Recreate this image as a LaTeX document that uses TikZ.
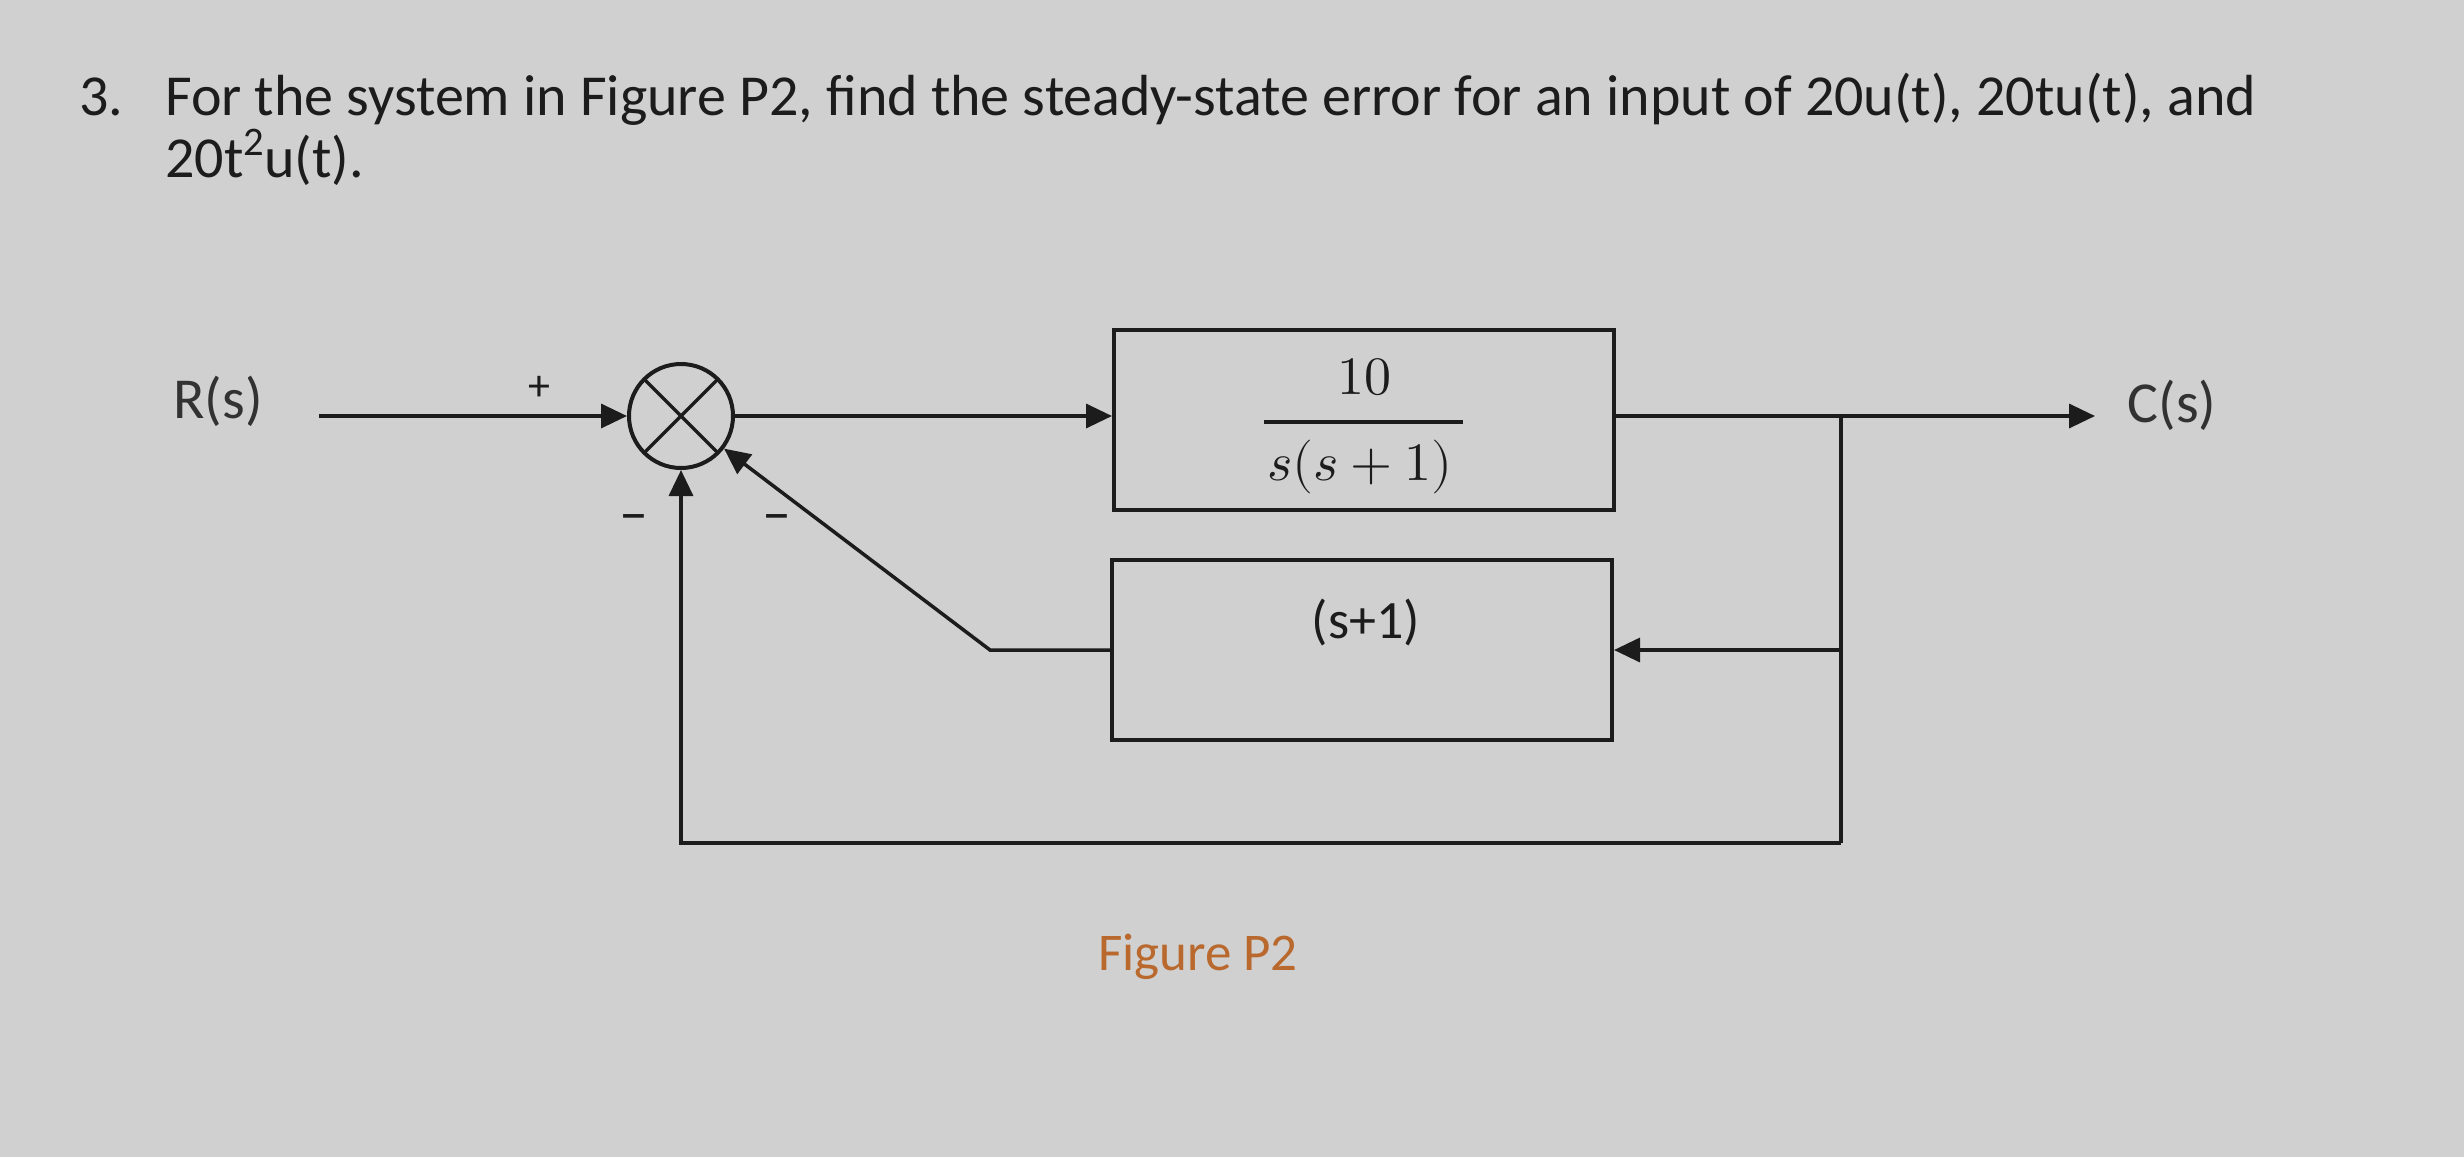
\documentclass[tikz,border=0pt]{standalone}
\usepackage{unicode-math}
\setmainfont{Carlito}
\setmathfont{Latin Modern Math}
\usetikzlibrary{arrows.meta}
\definecolor{bg}{RGB}{208,208,208}
\definecolor{ink}{RGB}{28,28,28}
\definecolor{lblink}{RGB}{50,50,50}
\definecolor{capcol}{RGB}{185,105,45}
\begin{document}
\begin{tikzpicture}[x=1pt,y=-1pt,
  line/.style={draw=ink, line width=3.5pt},
  arr/.style={line, -{Triangle[length=26pt,width=24pt]}},
  block/.style={draw=ink, line width=4pt, minimum width=500pt, minimum height=180pt, inner sep=0pt},
  sumnode/.style={circle, draw=ink, line width=4pt, minimum size=104pt, inner sep=0pt,
    path picture={\draw[ink, line width=3.5pt]
      (path picture bounding box.north west) -- (path picture bounding box.south east)
      (path picture bounding box.north east) -- (path picture bounding box.south west);}},
  title/.style={font=\fontsize{58}{70}\selectfont, text=ink, inner sep=0pt, anchor=base west},
  lbl/.style={font=\fontsize{58}{70}\selectfont, text=lblink, inner sep=0pt},
  sign/.style={font=\fontsize{44}{50}\selectfont, text=ink, inner sep=0pt},
  mathlbl/.style={font=\fontsize{54}{64}\selectfont, text=ink, inner sep=0pt},
]
\fill[bg] (0,0) rectangle (2464,1157);
\useasboundingbox (0,0) rectangle (2464,1157);

% title
\node[title] (num) at (79,115) {3.};
\node[title] (q1) at (165,115) {For the system in Figure P2, find the steady-state error for an input of 20u(t), 20tu(t), and};
\node[title] (q2) at (165,177) {20t\textsuperscript{2}u(t).};

% blocks
\node[sumnode] (sum) at (681,416) {};
\node[block] (g) at (1364,420) {};
\node[block] (h) at (1362,650) {};

% fraction in G
\node[mathlbl] (gnum) at (1364,377) {$10$};
\draw[ink, line width=4pt] (1264,422) -- (1463,422);
\node[mathlbl] (gden) at (1360,467) {$s(s+1)$};
\node[lbl, text=ink, font=\fontsize{54}{64}\selectfont] (hlab) at (1366,622) {(s+1)};

% labels
\node[lbl] (rlab) at (218,401) {R(s)};
\node[lbl] (clab) at (2172,405) {C(s)};
\node[sign] (plus) at (539,388) {+};
\node[sign, font=\fontsize{58}{64}\selectfont] (m1) at (634,524) {–};
\node[sign, font=\fontsize{58}{64}\selectfont] (m2) at (777,524) {–};
\node[font=\fontsize{53}{64}\selectfont, text=capcol, inner sep=0pt, anchor=base] (cap) at (1198,970) {Figure P2};

% coordinates
\coordinate (rin) at (319,416);
\coordinate (cout) at (2095,416);
\coordinate (br) at (1841,416);
\coordinate (bot1) at (1841,843);
\coordinate (bot2) at (681,843);
\coordinate (knee) at (990,650);

% connectors
\draw[arr] (rin) -- (sum.west);
\draw[arr] (sum.east) -- (g.west |- sum.east);
\draw[arr] (g.east |- sum.east) -- (cout);
\draw[arr] (br) |- (h.east);
\draw[line] (br) -- (bot1);
\draw[arr] (bot1) -- (bot2) -- (sum.south);
\draw[arr] (h.west) -- (knee) -- (sum);
\end{tikzpicture}
\end{document}
